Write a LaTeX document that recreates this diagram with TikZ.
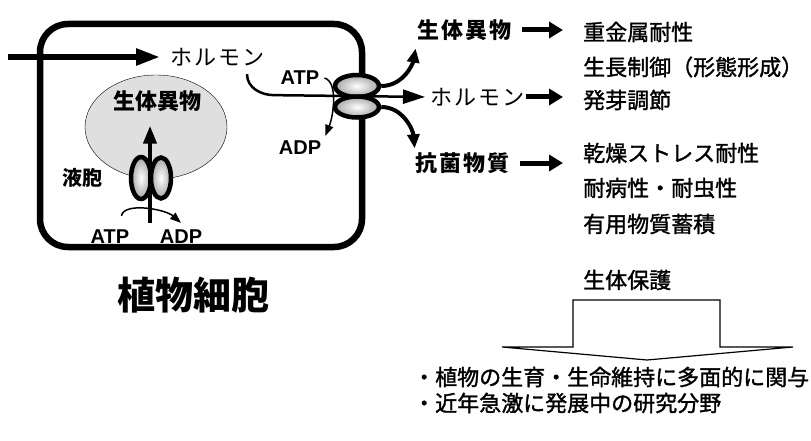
\documentclass[tikz,border=0pt]{standalone}
\usepackage{fontspec}
\setmainfont{Noto Sans CJK JP}
\newfontfamily\jpm[FakeBold=1.4]{Noto Sans CJK JP}
\newfontfamily\lat{Liberation Sans}
\usetikzlibrary{arrows.meta, positioning, shapes.geometric, calc}

\begin{document}
\begin{tikzpicture}[x=1pt, y=1pt,
  txt/.style={inner sep=0pt, font=\fontsize{22}{24}\selectfont\jpm},
  jbold/.style={inner sep=0pt, font=\fontsize{22}{24}\selectfont\bfseries},
  wide/.style={font=\fontsize{22}{24}\selectfont\addfontfeatures{LetterSpace=10}},
  atp/.style={inner sep=0pt, font=\fontsize{20}{22}\selectfont\lat\bfseries},
  fat/.style={line width=5pt, -{Triangle[length=14pt, width=16pt]}},
  curvarr/.style={line width=4pt, -{Triangle[length=14pt, width=12pt]}},
  flow/.style={line width=2.5pt, -{Triangle[length=22pt, width=14pt]}},
  smallarr/.style={line width=1.5pt, -{Triangle[length=11pt, width=8pt]}},
  pump/.style={ellipse, draw, line width=4.5pt, inner color=white, outer color=gray!70, inner sep=0pt},
]
  \useasboundingbox (0,0) rectangle (811,440);

  % bunka a vakuola
  \draw[line width=6.5pt, rounded corners=28pt] (40,193) rectangle (362,416);
  \node[ellipse, draw, fill=gray!25, minimum width=142pt, minimum height=104pt] (vac) at (156,313) {};
  \node[jbold] (vacxeno) at (157,339) {生体異物};
  \node[jbold, font=\fontsize{20}{22}\selectfont\bfseries] (vacname) at (82,262) {液胞};
  \node[pump, minimum width=20pt, minimum height=42pt] (vpL) at (141,262) {};
  \node[pump, minimum width=20pt, minimum height=41pt] (vpR) at (161,262) {};
  \coordinate (vin) at (150,217);
  \draw[line width=4pt, -{Triangle[length=18pt, width=13pt]}, shorten >=14pt] (vin) -- (vin |- vacxeno.south);
  \node[atp] (atpB) at (110,203) {ATP};
  \node[atp] (adpB) at (181,203) {ADP};
  \draw[smallarr] ([shift={(-8pt,14pt)}]atpB.north east) .. controls +(2,14) and +(-16,14) .. ([yshift=7pt]adpB.north);

  % hormon vstupuje do bunky
  \coordinate (outside) at (8,383);
  \node[txt, wide, anchor=west] (horm1) at (170,383) {ホルモン};
  \draw[line width=5.5pt, -{Triangle[length=24pt, width=16pt]}, shorten >=10pt] (outside) -- (horm1.west);

  % transporter na membrane
  \node[pump, minimum width=44pt, minimum height=22pt] (pumpU) at (357,354) {};
  \node[pump, minimum width=44pt, minimum height=21pt] (pumpL) at (357,333) {};
  \node[atp] (atpR) at (300,362) {ATP};
  \node[atp] (adpR) at (300,292) {ADP};
  \draw[smallarr] ([xshift=5pt]atpR.east) .. controls +(14,-4) and +(8,20) .. ([shift={(4pt,5pt)}]adpR.north east);

  % vystup z bunky
  \node[jbold, wide, anchor=west] (xeno2) at (417,410) {\bfseries 生体異物};
  \node[txt, wide, anchor=west] (horm2) at (430,343) {ホルモン};
  \node[jbold, wide, anchor=west] (antimic) at (415,277) {\bfseries 抗菌物質};
  \draw[flow, shorten >=5pt] ([shift={(-18pt,-8pt)}]horm1.south east) to[out=-90, in=180] ++(27,-21) -- (horm2.west);
  \draw[curvarr, shorten >=8pt] (pumpU.east) to[out=0, in=-100] (xeno2.south west);
  \draw[curvarr, shorten >=4pt] (pumpL.east) to[out=0, in=95] (antimic.north west);

  % funkce
  \node[txt, anchor=west] (metal) at (583,408) {重金属耐性};
  \node[txt, anchor=west] (growth) at (583,373) {生長制御（形態形成）};
  \node[txt, anchor=west] (germ) at (583,340) {発芽調節};
  \node[txt, anchor=west] (drought) at (583,287) {乾燥ストレス耐性};
  \node[txt, anchor=west] (disease) at (583,252) {耐病性・耐虫性};
  \node[txt, anchor=west] (storage) at (583,216) {有用物質蓄積};
  \node[txt, anchor=west] (protect) at (583,160) {生体保護};
  \draw[fat, shorten <=10pt, shorten >=20pt] (xeno2.east) -- (xeno2.east -| metal.west);
  \draw[fat, shorten <=1pt, shorten >=20pt] (horm2.east) -- (horm2.east -| germ.west);
  \draw[fat, shorten <=10pt, shorten >=20pt] (antimic.east) -- (antimic.east -| drought.west);

  % velka sipka dolu
  \draw[line width=1.2pt] (573,93) -- (573,140) -- (720,140) -- (720,93) -- (793,93) -- (647,80) -- (502,93) -- cycle;
  \node[txt, anchor=west] (sum1) at (413,63) {・植物の生育・生命維持に多面的に関与};
  \node[txt, anchor=west] (sum2) at (413,37) {・近年急激に発展中の研究分野};

  \node[inner sep=0pt, font=\fontsize{38}{42}\selectfont\bfseries] (cellname) at (193,145) {植物細胞};
\end{tikzpicture}
\end{document}
